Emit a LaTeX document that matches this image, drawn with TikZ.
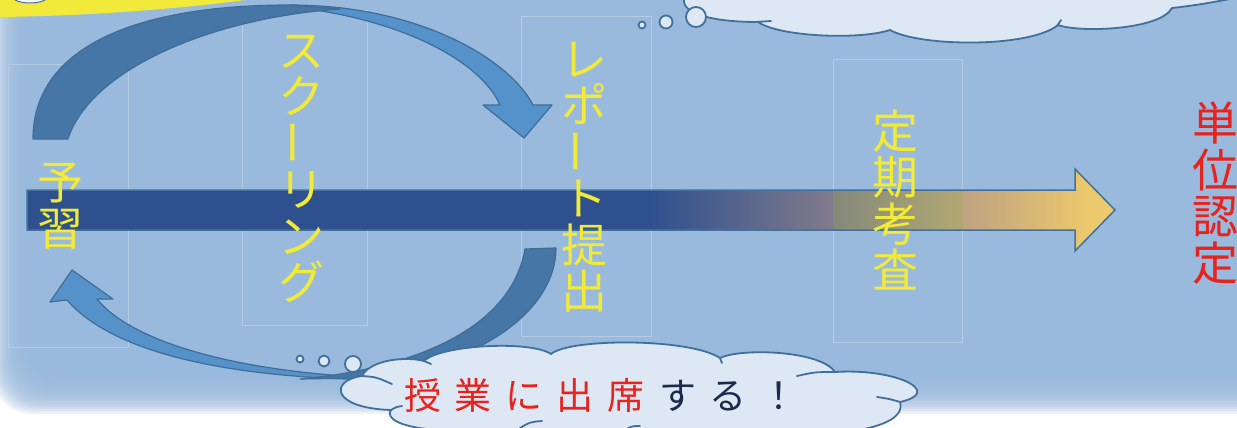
\documentclass[tikz,border=0pt]{standalone}
\usepackage{fontspec}
\usepackage{graphicx}
\newfontfamily\jp{Noto Sans CJK JP}
\definecolor{bgblue}{HTML}{99BADD}
\definecolor{boxline}{HTML}{B6CCE5}
\definecolor{arrline}{HTML}{41719C}
\definecolor{arrdark}{HTML}{2E508E}
\definecolor{gA}{HTML}{827B8C}
\definecolor{gB}{HTML}{84897A}
\definecolor{gC}{HTML}{B2A873}
\definecolor{gD}{HTML}{BFA281}
\definecolor{gold}{HTML}{ECC96C}
\definecolor{cdark}{HTML}{4676A5}
\definecolor{clight}{HTML}{5592C9}
\definecolor{cline}{HTML}{3F6D99}
\definecolor{cloudfill}{HTML}{DDE8F4}
\definecolor{cloudline}{HTML}{41709C}
\definecolor{ytext}{HTML}{F2EA38}
\definecolor{yshape}{HTML}{F2EA3A}
\definecolor{tred}{HTML}{E8231E}
\definecolor{tnavy}{HTML}{1E2A4C}
\newcommand\jch[1]{\makebox[51pt]{#1}}
\newcommand\vbar{\raisebox{0.17em}{\smash{\rotatebox[origin=c]{90}{ー}}}}
\begin{document}
\begin{tikzpicture}[x=1pt,y=-1pt,
  vtext/.style={font=\jp\fontsize{46}{46.5}\selectfont, text=ytext, align=center, inner sep=0pt},
  tbox/.style={draw=boxline, line width=0.8pt},
  cloudshape/.style={fill=cloudfill, draw=cloudline, line width=1.8pt, line join=round},
  hook/.style={draw=cloudline, line width=1.8pt, line cap=round},
  cdarks/.style={fill=cdark, draw=cline, line width=1.2pt, line join=round},
  clights/.style={fill=clight, draw=cline, line width=1.2pt, line join=round}]
\useasboundingbox (0,0) rectangle (1237,428);
\clip (0,0) rectangle (1237,428);
% background with soft edge
\fill[white] (0,0) rectangle (1237,428);
\foreach \i in {0,...,19}{
  \fill[bgblue, opacity=0.15, rounded corners=40pt] ({-8+1.7*\i},-80) rectangle (1320,{414-1.8*\i});
}
\fill[bgblue, rounded corners=40pt] (26,-80) rectangle (1320,378);
% yellow shape top left
\fill[yshape] (-5,-5) -- (-5,17) -- (0,17) .. controls (90,16) and (190,8) .. (252,-1) -- (252,-5) -- cycle;
\draw[fill=white, draw=arrline, line width=1pt] (30,-4) ellipse [x radius=18, y radius=7];
% text boxes
\draw[tbox] (8,64) rectangle (128,347);
\draw[tbox] (242,10) rectangle (367,325);
\draw[tbox] (521,16) rectangle (651,336);
\draw[tbox] (833,59) rectangle (962,342);
% main arrow
\begin{scope}
\clip (27,190) -- (1075,190) -- (1075,169) -- (1115,210) -- (1075,251) -- (1075,230) -- (27,230) -- cycle;
\fill[arrdark] (20,160) rectangle (651,260);
\shade[left color=arrdark, right color=gA] (650,160) rectangle (833.5,260);
\shade[left color=gB, right color=gC] (833,160) rectangle (963.5,260);
\shade[left color=gD, right color=gold] (963,160) rectangle (1090,260);
\fill[gold] (1089.5,160) rectangle (1120,260);
\end{scope}
\draw[arrline, line width=1.5pt, line join=miter] (27,190) -- (1075,190) -- (1075,169) -- (1115,210) -- (1075,251) -- (1075,230) -- (27,230) -- cycle;
% top curved arrow
\path[clights] (290,5) .. controls (420,5) and (510,60) .. (533,105) -- (552,105) -- (524,138) -- (483,105) -- (500,105) .. controls (480,60) and (400,20) .. (300,8) -- cycle;
\path[cdarks] (33,139) .. controls (33,50) and (130,5) .. (290,5) -- (340,9) .. controls (210,18) and (90,70) .. (68,139) -- cycle;
% bottom curved arrow
\path[clights] (67,300) .. controls (110,350) and (220,380) .. (400,380) -- (380,378) .. controls (230,372) and (130,340) .. (97,299) -- (113,299) -- (72,270) -- (50,302) -- cycle;
\path[cdarks] (525,249) -- (556,248) .. controls (556,310) and (480,368) .. (360,378) -- (300,379) .. controls (400,370) and (510,335) .. (525,249) -- cycle;
% top cloud
\path[cloudshape] (684,-20) -- (684,2) .. controls (686,16) and (720,22) .. (758,22) .. controls (780,37) and (860,40) .. (890,30) .. controls (920,47) and (1030,48) .. (1058,25) .. controls (1080,33) and (1160,30) .. (1172,8) .. controls (1200,5) and (1225,0) .. (1245,-4) -- (1245,-20) -- cycle;
\draw[hook] (756,22) -- (771,21);
\draw[hook] (1057,26) -- (1061,20);
\draw[cloudshape] (642,25) circle [radius=3.5];
\draw[cloudshape] (666,22) circle [radius=6.5];
\draw[cloudshape] (696,17) circle [radius=10];
% bottom cloud
\path[cloudshape] (440,445) -- (440,430) .. controls (400,428) and (385,418) .. (391,410) .. controls (330,408) and (330,380) .. (362,376) .. controls (370,360) and (405,356) .. (424,361) .. controls (440,345) and (530,340) .. (551,354) .. controls (570,338) and (690,338) .. (720,358) .. controls (740,348) and (820,350) .. (835,372) .. controls (895,368) and (945,392) .. (900,402) .. controls (905,418) and (880,428) .. (845,432) -- (845,445) -- cycle;
\draw[hook] (362,376) .. controls (376,377) .. (392,384);
\draw[hook] (391,410) .. controls (396,407) .. (402,406);
\draw[hook] (424,361) -- (431,364);
\draw[hook] (720,358) -- (722,363);
\draw[hook] (835,372) .. controls (815,372) .. (797,376);
\draw[hook] (900,402) .. controls (890,399) .. (877,397);
\draw[hook] (520,428) .. controls (530,422) .. (542,421);
\draw[hook] (625,430) .. controls (632,426) .. (640,426);
\draw[cloudshape] (300,359) circle [radius=3.5];
\draw[cloudshape] (324,361) circle [radius=5.5];
\draw[cloudshape] (353,364) circle [radius=8];
% texts
\node[vtext] (yoshu) at (60,206) {予\\習};
\node[vtext] (schooling) at (301,169) {ス\\ク\\\vbar\\リ\\ン\\グ};
\node[vtext] (report) at (584,177) {レ\\ポ\\\vbar\\ト\\提\\出};
\node[vtext] (exam) at (895,200) {定\\期\\考\\査};
\node[vtext, text=tred] (credit) at (1215,193) {単\\位\\認\\定};
\node[font=\jp\fontsize{37}{40}\selectfont, inner sep=0pt] (attend) at (601,395)
  {\textcolor{tred}{\jch{授}\jch{業}\jch{に}\jch{出}\jch{席}}\textcolor{tnavy}{\jch{す}\jch{る}\jch{！}}};
\end{tikzpicture}
\end{document}
